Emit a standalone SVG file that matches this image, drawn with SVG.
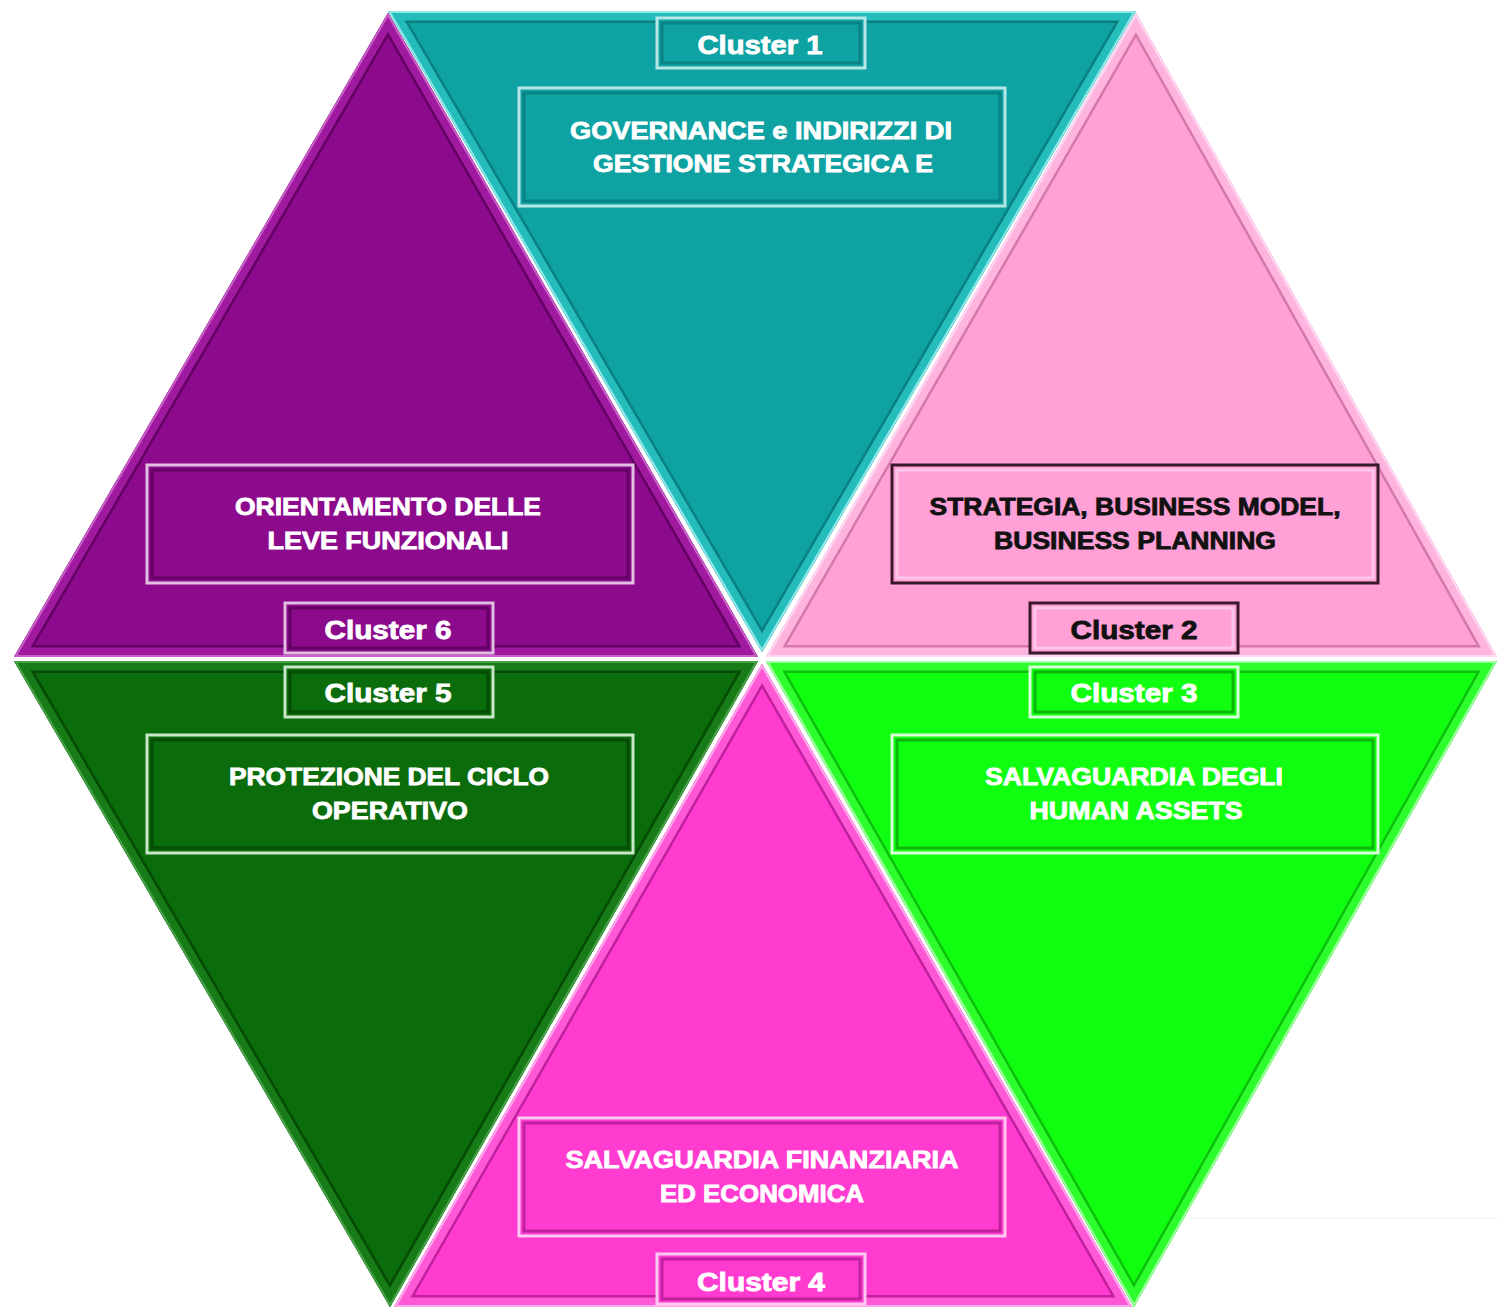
<svg xmlns="http://www.w3.org/2000/svg" width="1497" height="1307" viewBox="0 0 1497 1307">
<style>
.t{font-family:"Liberation Sans",Arial,sans-serif;font-weight:bold;text-anchor:middle;stroke-width:0.8}
.lbl{font-size:25px}
.body{font-size:23px}
.w{fill:#ffffff;stroke:#ffffff}
.k{fill:#111111;stroke:#111111}
.bx{stroke-width:3}
.in{fill:none;stroke-width:3}
</style>
<defs>
<clipPath id="c1"><polygon points="388,11 1136,11 762,652"/></clipPath>
<clipPath id="c6"><polygon points="388,13 14,657 758,657"/></clipPath>
<clipPath id="c2"><polygon points="1136,13 766,657 1497,657"/></clipPath>
<clipPath id="c5"><polygon points="14,661 758,661 390,1307"/></clipPath>
<clipPath id="c4"><polygon points="762,664 394,1307 1132,1307"/></clipPath>
<clipPath id="c3"><polygon points="766,661 1497,661 1134,1307"/></clipPath>
</defs>
<rect width="1497" height="1307" fill="#ffffff"/>
<line x1="1190" y1="1218" x2="1497" y2="1218" stroke="#eeeeee" stroke-width="1"/>

<g id="cluster1">
<polygon points="388,11 1136,11 762,652" fill="#0ea2a2"/>
<g clip-path="url(#c1)">
<polygon points="388,11 1136,11 762,652" fill="none" stroke="#0a8080" stroke-width="24"/>
<polygon points="388,11 1136,11 762,652" fill="none" stroke="#25bcbc" stroke-width="19"/>
<polygon points="388,11 1136,11 762,652" fill="none" stroke="#8fe8e8" stroke-width="4"/>
</g>
<rect class="bx" x="657" y="18" width="208" height="50" fill="#0ea2a2" stroke="#b6e6e6"/>
<rect class="in" x="662" y="23" width="198" height="40" stroke="#088282"/>
<text class="t lbl w" x="760" y="54" textLength="125" lengthAdjust="spacingAndGlyphs">Cluster 1</text>
<rect class="bx" x="519" y="88" width="486" height="118" fill="#0ea2a2" stroke="#b6e6e6"/>
<rect class="in" x="524" y="93" width="476" height="108" stroke="#088282"/>
<text class="t body w" x="761" y="139" textLength="382" lengthAdjust="spacingAndGlyphs">GOVERNANCE e INDIRIZZI DI</text>
<text class="t body w" x="763" y="172" textLength="340" lengthAdjust="spacingAndGlyphs">GESTIONE STRATEGICA E</text>
</g>

<g id="cluster6">
<polygon points="388,13 14,657 758,657" fill="#8c0a8c"/>
<g clip-path="url(#c6)">
<polygon points="388,13 14,657 758,657" fill="none" stroke="#640064" stroke-width="24"/>
<polygon points="388,13 14,657 758,657" fill="none" stroke="#a01aa0" stroke-width="19"/>
<polygon points="388,13 14,657 758,657" fill="none" stroke="#c860c8" stroke-width="4"/>
</g>
<rect class="bx" x="147" y="465" width="486" height="118" fill="#8c0a8c" stroke="#e0c0e0"/>
<rect class="in" x="152" y="470" width="476" height="108" stroke="#640064"/>
<text class="t body w" x="388" y="515" textLength="306" lengthAdjust="spacingAndGlyphs">ORIENTAMENTO DELLE</text>
<text class="t body w" x="388" y="549" textLength="241" lengthAdjust="spacingAndGlyphs">LEVE FUNZIONALI</text>
<rect class="bx" x="285" y="603" width="208" height="50" fill="#8c0a8c" stroke="#e0c0e0"/>
<rect class="in" x="290" y="608" width="198" height="40" stroke="#640064"/>
<text class="t lbl w" x="388" y="639" textLength="127" lengthAdjust="spacingAndGlyphs">Cluster 6</text>
</g>

<g id="cluster2">
<polygon points="1136,13 766,657 1497,657" fill="#ffa0d6"/>
<g clip-path="url(#c2)">
<polygon points="1136,13 766,657 1497,657" fill="none" stroke="#d478aa" stroke-width="24"/>
<polygon points="1136,13 766,657 1497,657" fill="none" stroke="#ffb4de" stroke-width="19"/>
<polygon points="1136,13 766,657 1497,657" fill="none" stroke="#ffd8f4" stroke-width="4"/>
</g>
<rect class="bx" x="892" y="465" width="486" height="118" fill="#ffa0d6" stroke="#3a1a2a"/>
<rect class="in" x="897" y="470" width="476" height="108" stroke="#ffc6e8"/>
<text class="t body k" x="1135" y="515" textLength="411" lengthAdjust="spacingAndGlyphs">STRATEGIA, BUSINESS MODEL,</text>
<text class="t body k" x="1135" y="549" textLength="282" lengthAdjust="spacingAndGlyphs">BUSINESS PLANNING</text>
<rect class="bx" x="1030" y="603" width="208" height="50" fill="#ffa0d6" stroke="#3a1a2a"/>
<rect class="in" x="1035" y="608" width="198" height="40" stroke="#ffc6e8"/>
<text class="t lbl k" x="1134" y="639" textLength="127" lengthAdjust="spacingAndGlyphs">Cluster 2</text>
</g>

<g id="cluster5">
<polygon points="14,661 758,661 390,1307" fill="#0b6c0b"/>
<g clip-path="url(#c5)">
<polygon points="14,661 758,661 390,1307" fill="none" stroke="#054a05" stroke-width="24"/>
<polygon points="14,661 758,661 390,1307" fill="none" stroke="#177c17" stroke-width="19"/>
<polygon points="14,661 758,661 390,1307" fill="none" stroke="#48a048" stroke-width="4"/>
</g>
<rect class="bx" x="285" y="667" width="208" height="50" fill="#0b6c0b" stroke="#c8e6c8"/>
<rect class="in" x="290" y="672" width="198" height="40" stroke="#054a05"/>
<text class="t lbl w" x="388" y="702" textLength="127" lengthAdjust="spacingAndGlyphs">Cluster 5</text>
<rect class="bx" x="147" y="735" width="486" height="118" fill="#0b6c0b" stroke="#c8e6c8"/>
<rect class="in" x="152" y="740" width="476" height="108" stroke="#054a05"/>
<text class="t body w" x="389" y="785" textLength="320" lengthAdjust="spacingAndGlyphs">PROTEZIONE DEL CICLO</text>
<text class="t body w" x="390" y="819" textLength="156" lengthAdjust="spacingAndGlyphs">OPERATIVO</text>
</g>

<g id="cluster3">
<polygon points="766,661 1497,661 1134,1307" fill="#10ff10"/>
<g clip-path="url(#c3)">
<polygon points="766,661 1497,661 1134,1307" fill="none" stroke="#0cc00c" stroke-width="24"/>
<polygon points="766,661 1497,661 1134,1307" fill="none" stroke="#2cff2c" stroke-width="19"/>
<polygon points="766,661 1497,661 1134,1307" fill="none" stroke="#a0ffa0" stroke-width="4"/>
</g>
<rect class="bx" x="1030" y="667" width="208" height="50" fill="#10ff10" stroke="#d8ffd8"/>
<rect class="in" x="1035" y="672" width="198" height="40" stroke="#0cb80c"/>
<text class="t lbl w" x="1134" y="702" textLength="127" lengthAdjust="spacingAndGlyphs">Cluster 3</text>
<rect class="bx" x="892" y="735" width="486" height="118" fill="#10ff10" stroke="#d8ffd8"/>
<rect class="in" x="897" y="740" width="476" height="108" stroke="#0cb80c"/>
<text class="t body w" x="1134" y="785" textLength="298" lengthAdjust="spacingAndGlyphs">SALVAGUARDIA  DEGLI</text>
<text class="t body w" x="1136" y="819" textLength="213" lengthAdjust="spacingAndGlyphs">HUMAN  ASSETS</text>
</g>

<g id="cluster4">
<polygon points="762,664 394,1307 1132,1307" fill="#ff3ccf"/>
<g clip-path="url(#c4)">
<polygon points="762,664 394,1307 1132,1307" fill="none" stroke="#c0209e" stroke-width="24"/>
<polygon points="762,664 394,1307 1132,1307" fill="none" stroke="#ff58d6" stroke-width="19"/>
<polygon points="762,664 394,1307 1132,1307" fill="none" stroke="#ffa8ec" stroke-width="4"/>
</g>
<rect class="bx" x="519" y="1118" width="486" height="118" fill="#ff3ccf" stroke="#ffc8f0"/>
<rect class="in" x="524" y="1123" width="476" height="108" stroke="#c0209e"/>
<text class="t body w" x="762" y="1168" textLength="393" lengthAdjust="spacingAndGlyphs">SALVAGUARDIA  FINANZIARIA</text>
<text class="t body w" x="762" y="1202" textLength="204" lengthAdjust="spacingAndGlyphs">ED ECONOMICA</text>
<rect class="bx" x="657" y="1254" width="208" height="50" fill="#ff3ccf" stroke="#ffc8f0"/>
<rect class="in" x="662" y="1259" width="198" height="40" stroke="#c0209e"/>
<text class="t lbl w" x="761" y="1291" textLength="128" lengthAdjust="spacingAndGlyphs">Cluster 4</text>
</g>
<g id="connectors"/>
</svg>
